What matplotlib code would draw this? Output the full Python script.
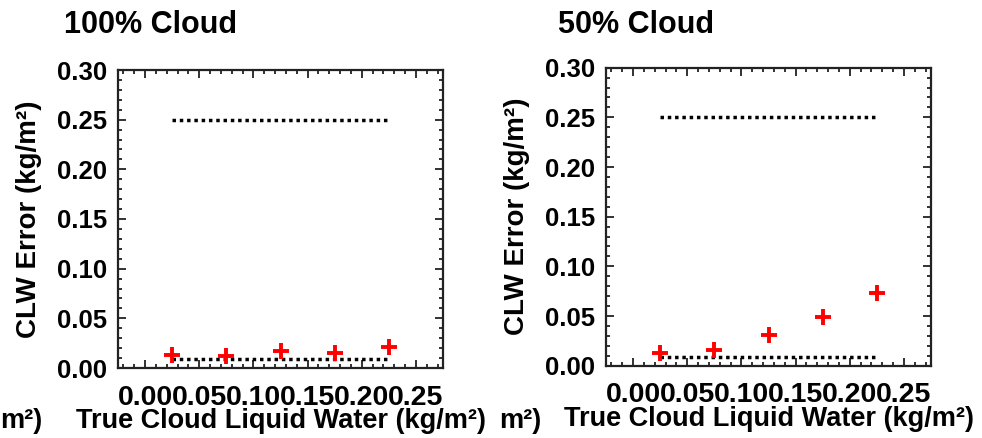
import numpy as np
import matplotlib
matplotlib.use("Agg")
import matplotlib.pyplot as plt
from matplotlib.ticker import MultipleLocator

plt.rcParams['font.family'] = ['Liberation Sans', 'DejaVu Sans']
plt.rcParams['font.weight'] = 'bold'

# 数据
true_clw = [0.025, 0.075, 0.125, 0.175, 0.225]
err_100 = [0.0134, 0.0124, 0.0167, 0.0151, 0.0214]
err_50 = [0.0131, 0.0154, 0.0305, 0.049, 0.073]
ref_x = [0.025, 0.225]
ref_upper = 0.25
ref_lower = 0.009
titles = ["100% Cloud", "50% Cloud"]
x_ticks = [0.00, 0.05, 0.10, 0.15, 0.20, 0.25]
y_ticks = [0.00, 0.05, 0.10, 0.15, 0.20, 0.25, 0.30]

fig = plt.figure(figsize=(9.82, 4.38), dpi=100)
ax1 = fig.add_axes([118/982, 70/438, 325/982, 298/438])
ax2 = fig.add_axes([606/982, 72.3/438, 325/982, 298/438])

for ax, err, title, tx in [(ax1, err_100, titles[0], 64), (ax2, err_50, titles[1], 558)]:
    ax.plot(ref_x, [ref_upper, ref_upper], color="black", lw=2.5, ls=(0, (1, 1.1)))
    ax.plot(ref_x, [ref_lower, ref_lower], color="black", lw=2.5, ls=(0, (1, 1.1)))
    ax.plot(true_clw, err, "+", color="red", ms=11, mew=2.8)

    ax.set_xlim(-0.025, 0.275)
    ax.set_ylim(0, 0.30)
    ax.set_xticks(x_ticks)
    ax.set_yticks(y_ticks)
    ax.set_xticklabels([f"{v:.2f}" for v in x_ticks])
    ax.set_yticklabels([f"{v:.2f}" for v in y_ticks])
    ax.xaxis.set_minor_locator(MultipleLocator(0.01))
    ax.yaxis.set_minor_locator(MultipleLocator(0.01))
    ax.tick_params(which="both", direction="in", top=True, right=True, width=1.3, color="#222")
    ax.tick_params(which="major", length=6)
    ax.tick_params(which="minor", length=3)
    ax.tick_params(axis="x", pad=12, labelsize=20.5)
    ax.tick_params(axis="y", pad=8, labelsize=18.5)
    for sp in ax.spines.values():
        sp.set_linewidth(1.6)
        sp.set_color("#222")

    ax.set_ylabel("CLW Error (kg/m²)", fontsize=20, fontweight="bold")
    ax.yaxis.set_label_coords(-0.234, 0.5)
    ax.set_xlabel("True Cloud Liquid Water (kg/m²)", fontsize=19.5, fontweight="bold")
    ax.xaxis.set_label_coords(0.5, -0.135)

    fig.text(tx / 982, 1 - 25 / 438, title, fontsize=22, fontweight="bold",
             ha="left", va="center")

# 裁剪残留的标签尾巴
fig.text(0 / 982, 1 - 421 / 438, "m²)", fontsize=19.5, fontweight="bold", ha="left", va="center")
fig.text(541 / 982, 1 - 421 / 438, "m²)", fontsize=19.5, fontweight="bold", ha="right", va="center")

plt.savefig("out.png", dpi=100)
plt.close()
